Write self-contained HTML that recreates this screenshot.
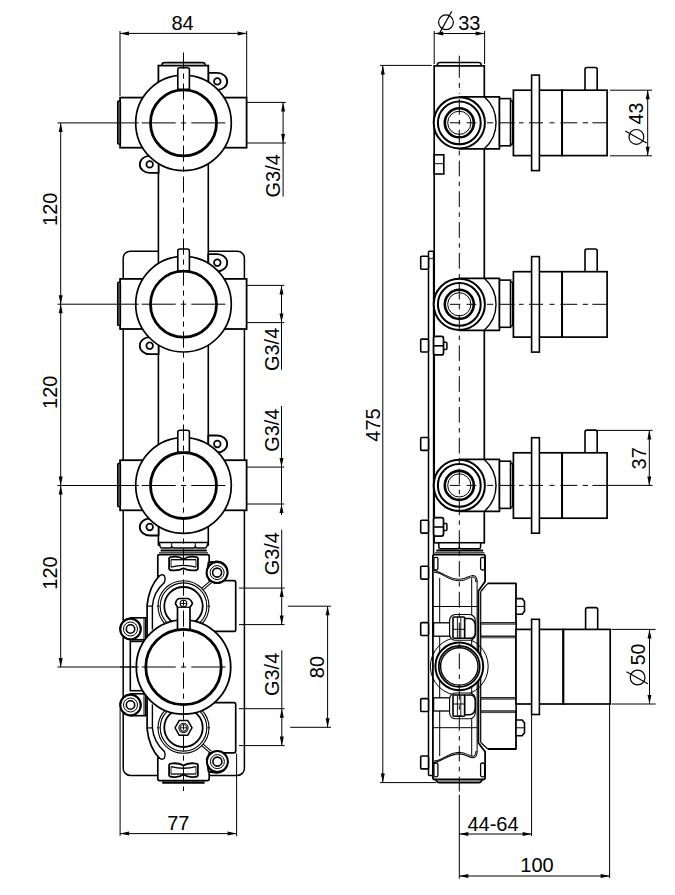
<!DOCTYPE html>
<html><head><meta charset="utf-8"><style>
html,body{margin:0;padding:0;background:#fff;}
svg{display:block;}
text{font-family:"Liberation Sans",sans-serif;fill:#000;}
</style></head><body>
<svg width="675" height="895" viewBox="0 0 675 895">
<rect x="0" y="0" width="675" height="895" fill="#fff"/>
<rect x="123.20" y="251.20" width="121.20" height="524.20" rx="7" fill="#fff" stroke="#000" stroke-width="1.5"/>
<rect x="158.40" y="120.00" width="49.90" height="425.00" rx="0" fill="#fff" stroke="#000" stroke-width="1.6"/>
<path d="M208.3,72.9 L217.3,72.9 A9.9,8.5 0 0 1 217.3,89.9 L208.3,89.9 Z" fill="#fff" stroke="#000" stroke-width="1.8" stroke-linejoin="round"/>
<circle cx="217.30" cy="81.40" r="3.30" fill="none" stroke="#000" stroke-width="1.7"/>
<path d="M158.6,172.9 L149.7,172.9 A9.9,8.5 0 0 1 149.7,155.9 L158.6,155.9 Z" fill="#fff" stroke="#000" stroke-width="1.8" stroke-linejoin="round"/>
<circle cx="149.70" cy="164.40" r="3.30" fill="none" stroke="#000" stroke-width="1.7"/>
<rect x="158.40" y="65.60" width="49.90" height="27.30" rx="0" fill="#fff" stroke="#000" stroke-width="1.8"/>
<path d="M162,65.6 L162,64.2 Q162.3,62.6 164.5,62.6 L202.5,62.6 Q204.7,62.6 205,64.2 L205,65.6" fill="none" stroke="#000" stroke-width="1.7" stroke-linejoin="round"/>
<rect x="120.10" y="97.60" width="126.50" height="50.10" rx="0" fill="#fff" stroke="#000" stroke-width="1.8"/>
<rect x="117.6" y="100.90" width="2.9" height="43.20" rx="1" fill="#555" stroke="#000" stroke-width="1.3"/>
<circle cx="183.50" cy="122.90" r="47.80" fill="#fff" stroke="#000" stroke-width="1.7"/>
<circle cx="183.50" cy="122.90" r="33.00" fill="none" stroke="#000" stroke-width="2.8"/>
<path d="M177.8,89.4 L177.8,69.7 Q177.8,67.7 179.8,67.7 L187.4,67.7 Q189.4,67.7 189.4,69.7 L189.4,89.4 Z" fill="#fff" stroke="#000" stroke-width="1.6" stroke-linejoin="round"/>
<line x1="120.00" y1="122.90" x2="138.70" y2="122.90" stroke="#000" stroke-width="1.0"/>
<line x1="141.70" y1="122.90" x2="175.70" y2="122.90" stroke="#000" stroke-width="1.0"/>
<line x1="180.90" y1="122.90" x2="186.10" y2="122.90" stroke="#000" stroke-width="1.0"/>
<line x1="191.30" y1="122.90" x2="225.40" y2="122.90" stroke="#000" stroke-width="1.0"/>
<path d="M208.3,254.2 L217.3,254.2 A9.9,8.5 0 0 1 217.3,271.2 L208.3,271.2 Z" fill="#fff" stroke="#000" stroke-width="1.8" stroke-linejoin="round"/>
<circle cx="217.30" cy="262.70" r="3.30" fill="none" stroke="#000" stroke-width="1.7"/>
<path d="M158.6,354.2 L149.7,354.2 A9.9,8.5 0 0 1 149.7,337.2 L158.6,337.2 Z" fill="#fff" stroke="#000" stroke-width="1.8" stroke-linejoin="round"/>
<circle cx="149.70" cy="345.70" r="3.30" fill="none" stroke="#000" stroke-width="1.7"/>
<rect x="120.10" y="278.90" width="126.50" height="50.10" rx="0" fill="#fff" stroke="#000" stroke-width="1.8"/>
<rect x="117.6" y="282.20" width="2.9" height="43.20" rx="1" fill="#555" stroke="#000" stroke-width="1.3"/>
<circle cx="183.50" cy="304.20" r="47.80" fill="#fff" stroke="#000" stroke-width="1.7"/>
<circle cx="183.50" cy="304.20" r="33.00" fill="none" stroke="#000" stroke-width="2.8"/>
<path d="M177.8,270.7 L177.8,251.0 Q177.8,249.0 179.8,249.0 L187.4,249.0 Q189.4,249.0 189.4,251.0 L189.4,270.7 Z" fill="#fff" stroke="#000" stroke-width="1.6" stroke-linejoin="round"/>
<line x1="120.00" y1="304.20" x2="138.70" y2="304.20" stroke="#000" stroke-width="1.0"/>
<line x1="141.70" y1="304.20" x2="175.70" y2="304.20" stroke="#000" stroke-width="1.0"/>
<line x1="180.90" y1="304.20" x2="186.10" y2="304.20" stroke="#000" stroke-width="1.0"/>
<line x1="191.30" y1="304.20" x2="225.40" y2="304.20" stroke="#000" stroke-width="1.0"/>
<path d="M208.3,435.5 L217.3,435.5 A9.9,8.5 0 0 1 217.3,452.5 L208.3,452.5 Z" fill="#fff" stroke="#000" stroke-width="1.8" stroke-linejoin="round"/>
<circle cx="217.30" cy="444.00" r="3.30" fill="none" stroke="#000" stroke-width="1.7"/>
<path d="M158.6,535.5 L149.7,535.5 A9.9,8.5 0 0 1 149.7,518.5 L158.6,518.5 Z" fill="#fff" stroke="#000" stroke-width="1.8" stroke-linejoin="round"/>
<circle cx="149.70" cy="527.00" r="3.30" fill="none" stroke="#000" stroke-width="1.7"/>
<rect x="120.10" y="460.20" width="126.50" height="50.10" rx="0" fill="#fff" stroke="#000" stroke-width="1.8"/>
<rect x="117.6" y="463.50" width="2.9" height="43.20" rx="1" fill="#555" stroke="#000" stroke-width="1.3"/>
<circle cx="183.50" cy="485.50" r="47.80" fill="#fff" stroke="#000" stroke-width="1.7"/>
<circle cx="183.50" cy="485.50" r="33.00" fill="none" stroke="#000" stroke-width="2.8"/>
<path d="M177.8,452.0 L177.8,432.3 Q177.8,430.3 179.8,430.3 L187.4,430.3 Q189.4,430.3 189.4,432.3 L189.4,452.0 Z" fill="#fff" stroke="#000" stroke-width="1.6" stroke-linejoin="round"/>
<line x1="120.00" y1="485.50" x2="138.70" y2="485.50" stroke="#000" stroke-width="1.0"/>
<line x1="141.70" y1="485.50" x2="175.70" y2="485.50" stroke="#000" stroke-width="1.0"/>
<line x1="180.90" y1="485.50" x2="186.10" y2="485.50" stroke="#000" stroke-width="1.0"/>
<line x1="191.30" y1="485.50" x2="225.40" y2="485.50" stroke="#000" stroke-width="1.0"/>
<path d="M159.2,542.5 L208.3,542.5 L206.8,546.5 Q206.3,548 204.8,548 L197.3,548 Q195.3,548 195.3,546.5 Q195.3,548 193.3,548 L173.7,548 Q171.7,548 171.7,546.5 Q171.7,548 169.7,548 L162,548 Q160.6,548 160.1,546.5 Z" fill="#fff" stroke="#000" stroke-width="1.5" stroke-linejoin="round"/>
<line x1="171.70" y1="542.50" x2="171.70" y2="548.00" stroke="#000" stroke-width="1.0"/>
<line x1="195.30" y1="542.50" x2="195.30" y2="548.00" stroke="#000" stroke-width="1.0"/>
<line x1="160.60" y1="550.40" x2="206.80" y2="550.40" stroke="#000" stroke-width="2.0"/>
<line x1="159.00" y1="552.80" x2="208.00" y2="552.80" stroke="#000" stroke-width="1.0"/>
<rect x="130.50" y="617.80" width="15.20" height="21.90" rx="0" fill="#fff" stroke="#000" stroke-width="1.6"/>
<line x1="144.00" y1="617.80" x2="144.00" y2="639.70" stroke="#000" stroke-width="1.0"/>
<rect x="130.50" y="693.80" width="15.20" height="21.90" rx="0" fill="#fff" stroke="#000" stroke-width="1.6"/>
<line x1="144.00" y1="693.80" x2="144.00" y2="715.70" stroke="#000" stroke-width="1.0"/>
<path d="M157.8,556.3 Q157.8,554.7 159.6,554.7 L207.4,554.7 Q209.2,554.7 209.2,556.3 L209.2,580.7 L234,580.7 Q235.7,580.7 235.7,582.5 L235.7,629.7 Q235.7,631.4 234,631.4 L214.6,631.4 L214.6,702.6 L234,702.6 Q235.7,702.6 235.7,704.3 L235.7,751 Q235.7,752.8 234,752.8 L209.2,752.8 L209.2,778.8 Q209.2,780.6 207.4,780.6 L159.6,780.6 Q157.8,780.6 157.8,778.8 L157.8,757.8 L159.1,757.8 Q149,747 147.1,728.8 L147.1,605.2 Q149,587 159.1,576.2 L157.8,576.2 Z" fill="#fff" stroke="#000" stroke-width="1.7" stroke-linejoin="round"/>
<line x1="162.20" y1="782.60" x2="204.60" y2="782.60" stroke="#000" stroke-width="2.4"/>
<path d="M159.1,576.2 Q162,573.5 164.5,576 Q165.8,578.5 164.5,582.4 Q153.5,592 152.4,606.1 L152.4,629.4" fill="none" stroke="#000" stroke-width="1.4" stroke-linejoin="round"/>
<line x1="147.10" y1="606.10" x2="152.40" y2="606.10" stroke="#000" stroke-width="1.2"/>
<path d="M159.1,757.8 Q162,760.5 164.5,758 Q165.8,755.5 164.5,751.6 Q153.5,742 152.4,727.9 L152.4,704.6" fill="none" stroke="#000" stroke-width="1.4" stroke-linejoin="round"/>
<line x1="147.10" y1="727.90" x2="152.40" y2="727.90" stroke="#000" stroke-width="1.2"/>
<path d="M169.1,558.5 Q169.5,556.9 172.5,556.9 Q178.5,555.9 183.5,559.1999999999999 Q188.5,555.9 194.5,556.9 Q197.5,556.9 197.9,558.5 L197.9,568.6999999999999 Q197.5,570.3 194.5,570.3 Q188.5,571.0 183.5,568.1999999999999 Q178.5,571.0 172.5,570.3 Q169.5,570.3 169.1,568.6999999999999 Z" fill="none" stroke="#000" stroke-width="1.8" stroke-linejoin="round"/>
<line x1="171.00" y1="559.70" x2="196.00" y2="559.70" stroke="#000" stroke-width="1.3"/>
<path d="M171,567.0999999999999 Q183.5,563.8 196,567.0999999999999" fill="none" stroke="#000" stroke-width="1.3" stroke-linejoin="round"/>
<line x1="171.00" y1="559.70" x2="171.00" y2="567.10" stroke="#000" stroke-width="0.9"/>
<line x1="196.00" y1="559.70" x2="196.00" y2="567.10" stroke="#000" stroke-width="0.9"/>
<path d="M169.1,775.1999999999998 Q169.5,776.7999999999998 172.5,776.7999999999998 Q178.5,777.7999999999998 183.5,774.4999999999999 Q188.5,777.7999999999998 194.5,776.7999999999998 Q197.5,776.7999999999998 197.9,775.1999999999998 L197.9,764.9999999999999 Q197.5,763.3999999999999 194.5,763.3999999999999 Q188.5,762.6999999999998 183.5,765.4999999999999 Q178.5,762.6999999999998 172.5,763.3999999999999 Q169.5,763.3999999999999 169.1,764.9999999999999 Z" fill="none" stroke="#000" stroke-width="1.8" stroke-linejoin="round"/>
<line x1="171.00" y1="774.00" x2="196.00" y2="774.00" stroke="#000" stroke-width="1.3"/>
<path d="M171,766.5999999999999 Q183.5,769.8999999999999 196,766.5999999999999" fill="none" stroke="#000" stroke-width="1.3" stroke-linejoin="round"/>
<line x1="171.00" y1="774.00" x2="171.00" y2="766.60" stroke="#000" stroke-width="0.9"/>
<line x1="196.00" y1="774.00" x2="196.00" y2="766.60" stroke="#000" stroke-width="0.9"/>
<path d="M208.6,562.5 L215,561.6 A10.5,10.5 0 1 1 206.8,575 Z" fill="#fff" stroke="#000" stroke-width="2.0" stroke-linejoin="round"/>
<path d="M208.6,771.7 L215,772.6 A10.5,10.5 0 1 0 206.8,759.2 Z" fill="#fff" stroke="#000" stroke-width="2.0" stroke-linejoin="round"/>
<circle cx="217.10" cy="572.60" r="10.50" fill="#fff" stroke="#000" stroke-width="2.0"/>
<circle cx="217.10" cy="572.60" r="7.00" fill="none" stroke="#000" stroke-width="1.0"/>
<circle cx="217.10" cy="572.60" r="4.50" fill="none" stroke="#000" stroke-width="1.6"/>
<circle cx="217.40" cy="761.60" r="10.50" fill="#fff" stroke="#000" stroke-width="2.0"/>
<circle cx="217.40" cy="761.60" r="7.00" fill="none" stroke="#000" stroke-width="1.0"/>
<circle cx="217.40" cy="761.60" r="4.50" fill="none" stroke="#000" stroke-width="1.6"/>
<circle cx="130.50" cy="629.00" r="10.30" fill="#fff" stroke="#000" stroke-width="2.2"/>
<circle cx="130.50" cy="629.00" r="7.00" fill="none" stroke="#000" stroke-width="1.0"/>
<circle cx="130.50" cy="629.00" r="4.20" fill="none" stroke="#000" stroke-width="1.6"/>
<circle cx="130.50" cy="705.00" r="10.30" fill="#fff" stroke="#000" stroke-width="2.2"/>
<circle cx="130.50" cy="705.00" r="7.00" fill="none" stroke="#000" stroke-width="1.0"/>
<circle cx="130.50" cy="705.00" r="4.20" fill="none" stroke="#000" stroke-width="1.6"/>
<line x1="200.60" y1="589.20" x2="210.10" y2="581.20" stroke="#000" stroke-width="1.1"/>
<line x1="202.20" y1="590.60" x2="211.60" y2="582.60" stroke="#000" stroke-width="1.1"/>
<line x1="200.60" y1="744.80" x2="210.10" y2="752.80" stroke="#000" stroke-width="1.1"/>
<line x1="202.20" y1="743.40" x2="211.60" y2="751.40" stroke="#000" stroke-width="1.1"/>
<circle cx="183.50" cy="606.20" r="25.50" fill="#fff" stroke="#000" stroke-width="1.1"/>
<circle cx="183.50" cy="606.20" r="23.30" fill="none" stroke="#000" stroke-width="1.1"/>
<circle cx="183.50" cy="606.20" r="19.20" fill="none" stroke="#000" stroke-width="1.8"/>
<line x1="207.50" y1="606.20" x2="210.00" y2="606.20" stroke="#000" stroke-width="1.0"/>
<line x1="157.00" y1="606.20" x2="159.50" y2="606.20" stroke="#000" stroke-width="1.0"/>
<circle cx="183.50" cy="727.80" r="25.50" fill="#fff" stroke="#000" stroke-width="1.1"/>
<circle cx="183.50" cy="727.80" r="23.30" fill="none" stroke="#000" stroke-width="1.1"/>
<circle cx="183.50" cy="727.80" r="19.20" fill="none" stroke="#000" stroke-width="1.8"/>
<line x1="207.50" y1="727.80" x2="210.00" y2="727.80" stroke="#000" stroke-width="1.0"/>
<line x1="157.00" y1="727.80" x2="159.50" y2="727.80" stroke="#000" stroke-width="1.0"/>
<polygon points="175.0,727.8 179.25,720.4 187.75,720.4 192.0,727.8 187.75,735.1999999999999 179.25,735.1999999999999" fill="#fff" stroke="#000" stroke-width="1.5"/>
<circle cx="183.50" cy="727.80" r="4.60" fill="none" stroke="#000" stroke-width="1.1"/>
<circle cx="183.50" cy="727.80" r="3.30" fill="none" stroke="#000" stroke-width="0.9"/>
<line x1="180.00" y1="727.80" x2="187.00" y2="727.80" stroke="#000" stroke-width="0.9"/>
<rect x="130.30" y="641.40" width="17.20" height="49.30" rx="0" fill="#fff" stroke="#000" stroke-width="1.6"/>
<circle cx="183.50" cy="667.00" r="47.20" fill="#fff" stroke="#000" stroke-width="1.8"/>
<path d="M177.5,629 L177.5,607.3 L175.4,603.5 Q176.5,598.5 180,598.5 L187,598.5 Q190.5,598.5 192.5,603.5 L190,607.3 L190,629" fill="#fff" stroke="#000" stroke-width="1.7" stroke-linejoin="round"/>
<line x1="177.50" y1="607.30" x2="190.00" y2="607.30" stroke="#000" stroke-width="1.2"/>
<circle cx="183.50" cy="603.50" r="3.30" fill="none" stroke="#000" stroke-width="1.1"/>
<line x1="180.50" y1="603.50" x2="186.50" y2="603.50" stroke="#000" stroke-width="0.9"/>
<circle cx="183.50" cy="667.00" r="37.70" fill="none" stroke="#000" stroke-width="2.8"/>
<line x1="120.00" y1="667.00" x2="138.70" y2="667.00" stroke="#000" stroke-width="1.0"/>
<line x1="141.70" y1="667.00" x2="175.70" y2="667.00" stroke="#000" stroke-width="1.0"/>
<line x1="180.90" y1="667.00" x2="186.10" y2="667.00" stroke="#000" stroke-width="1.0"/>
<line x1="191.30" y1="667.00" x2="225.40" y2="667.00" stroke="#000" stroke-width="1.0"/>
<line x1="183.5" y1="51.1" x2="183.5" y2="791" stroke="#000" stroke-width="1" stroke-dasharray="16.2 4.8 5.2 4.8" stroke-dashoffset="-1.4"/>
<line x1="120.00" y1="31.00" x2="120.00" y2="96.00" stroke="#000" stroke-width="1.0"/>
<line x1="246.70" y1="31.00" x2="246.70" y2="97.00" stroke="#000" stroke-width="1.0"/>
<line x1="120.00" y1="33.40" x2="246.70" y2="33.40" stroke="#000" stroke-width="1.0"/>
<polygon points="120.00,33.40 129.00,31.40 129.00,35.40" fill="#000"/>
<polygon points="246.70,33.40 237.70,31.40 237.70,35.40" fill="#000"/>
<text x="182.60" y="30.40" text-anchor="middle" font-size="20">84</text>
<line x1="57.50" y1="122.90" x2="120.00" y2="122.90" stroke="#000" stroke-width="1.0"/>
<line x1="57.50" y1="304.20" x2="120.00" y2="304.20" stroke="#000" stroke-width="1.0"/>
<line x1="57.50" y1="485.50" x2="120.00" y2="485.50" stroke="#000" stroke-width="1.0"/>
<line x1="60.70" y1="122.90" x2="60.70" y2="304.20" stroke="#000" stroke-width="1.0"/>
<polygon points="60.70,122.90 58.70,131.90 62.70,131.90" fill="#000"/>
<polygon points="60.70,304.20 58.70,295.20 62.70,295.20" fill="#000"/>
<line x1="60.70" y1="304.20" x2="60.70" y2="485.50" stroke="#000" stroke-width="1.0"/>
<polygon points="60.70,304.20 58.70,313.20 62.70,313.20" fill="#000"/>
<polygon points="60.70,485.50 58.70,476.50 62.70,476.50" fill="#000"/>
<line x1="60.70" y1="485.50" x2="60.70" y2="667.00" stroke="#000" stroke-width="1.0"/>
<polygon points="60.70,485.50 58.70,494.50 62.70,494.50" fill="#000"/>
<polygon points="60.70,667.00 58.70,658.00 62.70,658.00" fill="#000"/>
<line x1="57.50" y1="667.00" x2="135.00" y2="667.00" stroke="#000" stroke-width="1.0"/>
<text transform="translate(56.50,209.30) rotate(-90)" text-anchor="middle" font-size="20">120</text>
<text transform="translate(56.50,392.30) rotate(-90)" text-anchor="middle" font-size="20">120</text>
<text transform="translate(56.50,573.00) rotate(-90)" text-anchor="middle" font-size="20">120</text>
<line x1="246.60" y1="102.40" x2="285.90" y2="102.40" stroke="#000" stroke-width="1.0"/>
<line x1="246.60" y1="143.00" x2="285.90" y2="143.00" stroke="#000" stroke-width="1.0"/>
<line x1="283.10" y1="102.40" x2="283.10" y2="196.60" stroke="#000" stroke-width="1.0"/>
<polygon points="283.10,102.40 281.10,111.40 285.10,111.40" fill="#000"/>
<polygon points="283.10,143.00 281.10,134.00 285.10,134.00" fill="#000"/>
<text transform="translate(280.10,175.85) rotate(-90)" text-anchor="middle" font-size="20">G3/4</text>
<line x1="246.60" y1="285.40" x2="284.30" y2="285.40" stroke="#000" stroke-width="1.0"/>
<line x1="246.60" y1="322.60" x2="284.30" y2="322.60" stroke="#000" stroke-width="1.0"/>
<line x1="281.50" y1="285.40" x2="281.50" y2="369.70" stroke="#000" stroke-width="1.0"/>
<polygon points="281.50,285.40 279.50,294.40 283.50,294.40" fill="#000"/>
<polygon points="281.50,322.60 279.50,313.60 283.50,313.60" fill="#000"/>
<text transform="translate(278.50,349.40) rotate(-90)" text-anchor="middle" font-size="20">G3/4</text>
<line x1="246.60" y1="467.10" x2="284.30" y2="467.10" stroke="#000" stroke-width="1.0"/>
<line x1="246.60" y1="504.00" x2="284.30" y2="504.00" stroke="#000" stroke-width="1.0"/>
<line x1="281.50" y1="406.00" x2="281.50" y2="504.00" stroke="#000" stroke-width="1.0"/>
<line x1="281.50" y1="504.00" x2="281.50" y2="515.00" stroke="#000" stroke-width="1.0"/>
<polygon points="281.50,467.10 279.50,458.10 283.50,458.10" fill="#000"/>
<polygon points="281.50,504.00 279.50,513.00 283.50,513.00" fill="#000"/>
<text transform="translate(278.50,430.20) rotate(-90)" text-anchor="middle" font-size="20">G3/4</text>
<line x1="239.00" y1="588.10" x2="284.50" y2="588.10" stroke="#000" stroke-width="1.0"/>
<line x1="239.00" y1="624.60" x2="284.50" y2="624.60" stroke="#000" stroke-width="1.0"/>
<line x1="281.70" y1="529.70" x2="281.70" y2="624.60" stroke="#000" stroke-width="1.0"/>
<polygon points="281.70,588.10 279.70,597.10 283.70,597.10" fill="#000"/>
<polygon points="281.70,624.60 279.70,615.60 283.70,615.60" fill="#000"/>
<text transform="translate(278.70,553.70) rotate(-90)" text-anchor="middle" font-size="20">G3/4</text>
<line x1="239.00" y1="708.70" x2="284.60" y2="708.70" stroke="#000" stroke-width="1.0"/>
<line x1="239.00" y1="745.60" x2="284.60" y2="745.60" stroke="#000" stroke-width="1.0"/>
<line x1="281.80" y1="650.30" x2="281.80" y2="745.60" stroke="#000" stroke-width="1.0"/>
<polygon points="281.80,708.70 279.80,717.70 283.80,717.70" fill="#000"/>
<polygon points="281.80,745.60 279.80,736.60 283.80,736.60" fill="#000"/>
<text transform="translate(278.80,674.40) rotate(-90)" text-anchor="middle" font-size="20">G3/4</text>
<line x1="287.80" y1="606.20" x2="331.00" y2="606.20" stroke="#000" stroke-width="1.0"/>
<line x1="290.20" y1="727.30" x2="331.00" y2="727.30" stroke="#000" stroke-width="1.0"/>
<line x1="327.60" y1="606.20" x2="327.60" y2="727.30" stroke="#000" stroke-width="1.0"/>
<polygon points="327.60,606.20 325.60,615.20 329.60,615.20" fill="#000"/>
<polygon points="327.60,727.30 325.60,718.30 329.60,718.30" fill="#000"/>
<text transform="translate(323.80,667.00) rotate(-90)" text-anchor="middle" font-size="20">80</text>
<line x1="120.10" y1="709.00" x2="120.10" y2="836.00" stroke="#000" stroke-width="1.0"/>
<line x1="236.60" y1="753.60" x2="236.60" y2="836.00" stroke="#000" stroke-width="1.0"/>
<line x1="120.10" y1="833.60" x2="236.60" y2="833.60" stroke="#000" stroke-width="1.0"/>
<polygon points="120.10,833.60 129.10,831.60 129.10,835.60" fill="#000"/>
<polygon points="236.60,833.60 227.60,831.60 227.60,835.60" fill="#000"/>
<text x="178.30" y="829.60" text-anchor="middle" font-size="20">77</text>
<rect x="428.50" y="251.30" width="5.10" height="524.10" rx="1" fill="#fff" stroke="#000" stroke-width="1.5"/>
<line x1="428.50" y1="258.60" x2="433.60" y2="258.60" stroke="#000" stroke-width="0.9"/>
<rect x="420.70" y="256.30" width="7.80" height="12.90" rx="1" fill="#fff" stroke="#000" stroke-width="1.6"/>
<rect x="420.70" y="339.10" width="7.80" height="12.90" rx="1" fill="#fff" stroke="#000" stroke-width="1.6"/>
<rect x="420.70" y="437.50" width="7.80" height="12.90" rx="1" fill="#fff" stroke="#000" stroke-width="1.6"/>
<rect x="420.70" y="520.20" width="7.80" height="12.90" rx="1" fill="#fff" stroke="#000" stroke-width="1.6"/>
<rect x="420.70" y="566.20" width="7.80" height="12.90" rx="1" fill="#fff" stroke="#000" stroke-width="1.6"/>
<rect x="420.70" y="622.60" width="7.80" height="12.90" rx="1" fill="#fff" stroke="#000" stroke-width="1.6"/>
<rect x="420.70" y="698.60" width="7.80" height="12.90" rx="1" fill="#fff" stroke="#000" stroke-width="1.6"/>
<rect x="420.70" y="756.00" width="7.80" height="12.90" rx="1" fill="#fff" stroke="#000" stroke-width="1.6"/>
<rect x="434.20" y="65.90" width="50.10" height="476.90" rx="0" fill="#fff" stroke="#000" stroke-width="1.7"/>
<path d="M437.5,65.8 L437.5,64.2 Q437.8,62.5 440,62.5 L478.6,62.5 Q480.8,62.5 481.1,64.2 L481.1,65.8" fill="none" stroke="#000" stroke-width="1.7" stroke-linejoin="round"/>
<rect x="434.20" y="154.80" width="9.60" height="19.20" rx="0" fill="#fff" stroke="#000" stroke-width="1.6"/>
<line x1="434.20" y1="163.70" x2="443.80" y2="163.70" stroke="#000" stroke-width="1.0"/>
<rect x="443.30" y="342.30" width="3.60" height="7.10" rx="1" fill="#fff" stroke="#000" stroke-width="1.5"/>
<rect x="433.60" y="336.40" width="9.90" height="18.50" rx="2" fill="#fff" stroke="#000" stroke-width="1.7"/>
<line x1="433.60" y1="345.80" x2="443.50" y2="345.80" stroke="#000" stroke-width="1.6"/>
<rect x="443.30" y="523.50" width="3.60" height="7.10" rx="1" fill="#fff" stroke="#000" stroke-width="1.5"/>
<rect x="433.60" y="517.60" width="9.90" height="18.50" rx="2" fill="#fff" stroke="#000" stroke-width="1.7"/>
<line x1="433.60" y1="527.00" x2="443.50" y2="527.00" stroke="#000" stroke-width="1.6"/>
<path d="M459.3,96.8 L499.5,96.8 L499.5,148.8 L459.3,148.8 Z" fill="#fff" stroke="#000" stroke-width="1.7" stroke-linejoin="round"/>
<path d="M484.3,96.8 A34.7,34.7 0 0 1 484.3,148.8" fill="none" stroke="#000" stroke-width="1.4" stroke-linejoin="round"/>
<rect x="499.50" y="98.60" width="11.10" height="47.20" rx="0" fill="#fff" stroke="#000" stroke-width="1.6"/>
<rect x="510.60" y="100.80" width="2.00" height="43.50" rx="0" fill="#fff" stroke="#000" stroke-width="1.4"/>
<circle cx="459.30" cy="122.80" r="25.60" fill="#fff" stroke="#000" stroke-width="2.0"/>
<circle cx="459.30" cy="122.80" r="21.40" fill="none" stroke="#000" stroke-width="2.0"/>
<circle cx="459.30" cy="122.80" r="14.50" fill="none" stroke="#000" stroke-width="2.6"/>
<circle cx="459.30" cy="122.80" r="11.60" fill="none" stroke="#000" stroke-width="1.0"/>
<rect x="585.00" y="67.50" width="12.20" height="24.70" rx="2" fill="#fff" stroke="#000" stroke-width="1.6"/>
<rect x="513.40" y="90.20" width="48.80" height="65.40" rx="0" fill="#fff" stroke="#000" stroke-width="1.7"/>
<line x1="562.20" y1="90.20" x2="562.20" y2="155.60" stroke="#000" stroke-width="2.4"/>
<rect x="562.20" y="90.20" width="44.90" height="65.40" rx="0" fill="#fff" stroke="#000" stroke-width="1.7"/>
<rect x="531.60" y="75.10" width="7.80" height="95.50" rx="0" fill="#fff" stroke="#000" stroke-width="1.6"/>
<line x1="449.80" y1="122.80" x2="460.40" y2="122.80" stroke="#000" stroke-width="1.0"/>
<line x1="466.70" y1="122.80" x2="476.40" y2="122.80" stroke="#000" stroke-width="1.0"/>
<line x1="487.00" y1="122.80" x2="493.30" y2="122.80" stroke="#000" stroke-width="1.0"/>
<line x1="498.70" y1="122.80" x2="514.70" y2="122.80" stroke="#000" stroke-width="1.0"/>
<line x1="519.00" y1="122.80" x2="523.60" y2="122.80" stroke="#000" stroke-width="1.0"/>
<line x1="528.90" y1="122.80" x2="543.10" y2="122.80" stroke="#000" stroke-width="1.0"/>
<line x1="549.50" y1="122.80" x2="554.50" y2="122.80" stroke="#000" stroke-width="1.0"/>
<line x1="560.40" y1="122.80" x2="577.30" y2="122.80" stroke="#000" stroke-width="1.0"/>
<line x1="582.70" y1="122.80" x2="588.00" y2="122.80" stroke="#000" stroke-width="1.0"/>
<line x1="592.40" y1="122.80" x2="606.70" y2="122.80" stroke="#000" stroke-width="1.0"/>
<path d="M459.3,278.3 L499.5,278.3 L499.5,330.3 L459.3,330.3 Z" fill="#fff" stroke="#000" stroke-width="1.7" stroke-linejoin="round"/>
<path d="M484.3,278.3 A34.7,34.7 0 0 1 484.3,330.3" fill="none" stroke="#000" stroke-width="1.4" stroke-linejoin="round"/>
<rect x="499.50" y="280.10" width="11.10" height="47.20" rx="0" fill="#fff" stroke="#000" stroke-width="1.6"/>
<rect x="510.60" y="282.30" width="2.00" height="43.50" rx="0" fill="#fff" stroke="#000" stroke-width="1.4"/>
<circle cx="459.30" cy="304.30" r="25.60" fill="#fff" stroke="#000" stroke-width="2.0"/>
<circle cx="459.30" cy="304.30" r="21.40" fill="none" stroke="#000" stroke-width="2.0"/>
<circle cx="459.30" cy="304.30" r="14.50" fill="none" stroke="#000" stroke-width="2.6"/>
<circle cx="459.30" cy="304.30" r="11.60" fill="none" stroke="#000" stroke-width="1.0"/>
<rect x="585.00" y="249.00" width="12.20" height="24.70" rx="2" fill="#fff" stroke="#000" stroke-width="1.6"/>
<rect x="513.40" y="271.70" width="48.80" height="65.40" rx="0" fill="#fff" stroke="#000" stroke-width="1.7"/>
<line x1="562.20" y1="271.70" x2="562.20" y2="337.10" stroke="#000" stroke-width="2.4"/>
<rect x="562.20" y="271.70" width="44.90" height="65.40" rx="0" fill="#fff" stroke="#000" stroke-width="1.7"/>
<rect x="531.60" y="256.60" width="7.80" height="95.50" rx="0" fill="#fff" stroke="#000" stroke-width="1.6"/>
<line x1="449.80" y1="304.30" x2="460.40" y2="304.30" stroke="#000" stroke-width="1.0"/>
<line x1="466.70" y1="304.30" x2="476.40" y2="304.30" stroke="#000" stroke-width="1.0"/>
<line x1="487.00" y1="304.30" x2="493.30" y2="304.30" stroke="#000" stroke-width="1.0"/>
<line x1="498.70" y1="304.30" x2="514.70" y2="304.30" stroke="#000" stroke-width="1.0"/>
<line x1="519.00" y1="304.30" x2="523.60" y2="304.30" stroke="#000" stroke-width="1.0"/>
<line x1="528.90" y1="304.30" x2="543.10" y2="304.30" stroke="#000" stroke-width="1.0"/>
<line x1="549.50" y1="304.30" x2="554.50" y2="304.30" stroke="#000" stroke-width="1.0"/>
<line x1="560.40" y1="304.30" x2="577.30" y2="304.30" stroke="#000" stroke-width="1.0"/>
<line x1="582.70" y1="304.30" x2="588.00" y2="304.30" stroke="#000" stroke-width="1.0"/>
<line x1="592.40" y1="304.30" x2="606.70" y2="304.30" stroke="#000" stroke-width="1.0"/>
<path d="M459.3,459.4 L499.5,459.4 L499.5,511.4 L459.3,511.4 Z" fill="#fff" stroke="#000" stroke-width="1.7" stroke-linejoin="round"/>
<path d="M484.3,459.4 A34.7,34.7 0 0 1 484.3,511.4" fill="none" stroke="#000" stroke-width="1.4" stroke-linejoin="round"/>
<rect x="499.50" y="461.20" width="11.10" height="47.20" rx="0" fill="#fff" stroke="#000" stroke-width="1.6"/>
<rect x="510.60" y="463.40" width="2.00" height="43.50" rx="0" fill="#fff" stroke="#000" stroke-width="1.4"/>
<circle cx="459.30" cy="485.40" r="25.60" fill="#fff" stroke="#000" stroke-width="2.0"/>
<circle cx="459.30" cy="485.40" r="21.40" fill="none" stroke="#000" stroke-width="2.0"/>
<circle cx="459.30" cy="485.40" r="14.50" fill="none" stroke="#000" stroke-width="2.6"/>
<circle cx="459.30" cy="485.40" r="11.60" fill="none" stroke="#000" stroke-width="1.0"/>
<rect x="585.00" y="430.10" width="12.20" height="24.70" rx="2" fill="#fff" stroke="#000" stroke-width="1.6"/>
<rect x="513.40" y="452.80" width="48.80" height="65.40" rx="0" fill="#fff" stroke="#000" stroke-width="1.7"/>
<line x1="562.20" y1="452.80" x2="562.20" y2="518.20" stroke="#000" stroke-width="2.4"/>
<rect x="562.20" y="452.80" width="44.90" height="65.40" rx="0" fill="#fff" stroke="#000" stroke-width="1.7"/>
<rect x="531.60" y="437.70" width="7.80" height="95.50" rx="0" fill="#fff" stroke="#000" stroke-width="1.6"/>
<line x1="449.80" y1="485.40" x2="460.40" y2="485.40" stroke="#000" stroke-width="1.0"/>
<line x1="466.70" y1="485.40" x2="476.40" y2="485.40" stroke="#000" stroke-width="1.0"/>
<line x1="487.00" y1="485.40" x2="493.30" y2="485.40" stroke="#000" stroke-width="1.0"/>
<line x1="498.70" y1="485.40" x2="514.70" y2="485.40" stroke="#000" stroke-width="1.0"/>
<line x1="519.00" y1="485.40" x2="523.60" y2="485.40" stroke="#000" stroke-width="1.0"/>
<line x1="528.90" y1="485.40" x2="543.10" y2="485.40" stroke="#000" stroke-width="1.0"/>
<line x1="549.50" y1="485.40" x2="554.50" y2="485.40" stroke="#000" stroke-width="1.0"/>
<line x1="560.40" y1="485.40" x2="577.30" y2="485.40" stroke="#000" stroke-width="1.0"/>
<line x1="582.70" y1="485.40" x2="588.00" y2="485.40" stroke="#000" stroke-width="1.0"/>
<line x1="592.40" y1="485.40" x2="606.70" y2="485.40" stroke="#000" stroke-width="1.0"/>
<path d="M438.8,542.8 L480.6,542.8 L480.6,547 Q480.6,548.7 478.8,548.7 L461,548.7 Q459.3,548.7 459.3,547 Q459.3,548.7 457.6,548.7 L440.6,548.7 Q438.8,548.7 438.8,547 Z" fill="#fff" stroke="#000" stroke-width="1.5" stroke-linejoin="round"/>
<line x1="459.30" y1="542.80" x2="459.30" y2="548.70" stroke="#000" stroke-width="1.0"/>
<line x1="436.30" y1="550.60" x2="483.10" y2="550.60" stroke="#000" stroke-width="2.0"/>
<line x1="435.00" y1="552.80" x2="484.50" y2="552.80" stroke="#000" stroke-width="1.0"/>
<rect x="480" y="583.4" width="36" height="165.6" fill="#fff"/>
<path d="M487.8,583.4 L516,583.4 L516,749 L487.8,749" fill="none" stroke="#000" stroke-width="1.8" stroke-linejoin="round"/>
<path d="M432.9,556.5 Q432.9,554.7 434.7,554.7 L483.3,554.7 Q485.1,554.7 485.1,556.5 L485.1,581.6 L478.4,591 L478.4,743 L485.1,751.8 L485.1,777.5 Q485.1,779.5 483.1,779.5 L434.9,779.5 Q432.9,779.5 432.9,777.5 Z" fill="#fff" stroke="#000" stroke-width="1.8" stroke-linejoin="round"/>
<line x1="487.80" y1="583.40" x2="480.70" y2="591.50" stroke="#000" stroke-width="1.2"/>
<line x1="487.80" y1="749.00" x2="480.70" y2="742.50" stroke="#000" stroke-width="1.2"/>
<line x1="480.70" y1="591.50" x2="480.70" y2="742.50" stroke="#000" stroke-width="1.2"/>
<path d="M436,780 Q437,782.5 439,782.5 L479,782.5 Q481,782.5 482,780" fill="none" stroke="#000" stroke-width="2.0" stroke-linejoin="round"/>
<line x1="439.70" y1="578.00" x2="439.70" y2="756.00" stroke="#000" stroke-width="1.0"/>
<line x1="471.70" y1="578.00" x2="471.70" y2="756.00" stroke="#000" stroke-width="1.0"/>
<line x1="477.10" y1="581.00" x2="477.10" y2="752.00" stroke="#000" stroke-width="1.0"/>
<line x1="432.90" y1="606.50" x2="477.10" y2="606.50" stroke="#000" stroke-width="1.0"/>
<line x1="432.90" y1="727.70" x2="477.10" y2="727.70" stroke="#000" stroke-width="1.0"/>
<path d="M433,570.5 C441,570.8 448,579.3 459,579.3 C466,579.3 469,575.5 473,575.5 Q477,575.8 477.2,582" fill="none" stroke="#000" stroke-width="1.1" stroke-linejoin="round"/>
<path d="M434,572.2 C442,572.5 449,580.8 459,580.8 C466,580.8 469.5,577 473,577 Q475.7,577.2 475.8,582" fill="none" stroke="#000" stroke-width="1.0" stroke-linejoin="round"/>
<path d="M433,762.7 C441,762.4 448,753.9 459,753.9 C466,753.9 469,757.7 473,757.7 Q477,757.4 477.2,751.2" fill="none" stroke="#000" stroke-width="1.1" stroke-linejoin="round"/>
<path d="M434,761 C442,760.7 449,752.4 459,752.4 C466,752.4 469.5,756.2 473,756.2 Q475.7,756 475.8,751.2" fill="none" stroke="#000" stroke-width="1.0" stroke-linejoin="round"/>
<rect x="433.90" y="557.30" width="4.00" height="12.70" rx="1.5" fill="#fff" stroke="#000" stroke-width="1.3"/>
<rect x="480.60" y="557.30" width="4.00" height="12.70" rx="1.5" fill="#fff" stroke="#000" stroke-width="1.3"/>
<rect x="433.90" y="763.00" width="4.00" height="13.80" rx="1.5" fill="#fff" stroke="#000" stroke-width="1.3"/>
<rect x="480.60" y="763.00" width="4.00" height="13.80" rx="1.5" fill="#fff" stroke="#000" stroke-width="1.3"/>
<rect x="433.60" y="622.80" width="16.40" height="13.40" rx="0" fill="#fff" stroke="#000" stroke-width="1.3"/>
<rect x="480.70" y="622.80" width="35.30" height="13.40" rx="0" fill="#fff" stroke="#000" stroke-width="1.3"/>
<line x1="480.70" y1="624.20" x2="516.00" y2="624.20" stroke="#000" stroke-width="0.8"/>
<line x1="480.70" y1="637.80" x2="516.00" y2="637.80" stroke="#000" stroke-width="0.8"/>
<rect x="433.60" y="697.80" width="16.40" height="13.20" rx="0" fill="#fff" stroke="#000" stroke-width="1.3"/>
<rect x="480.70" y="697.80" width="35.30" height="13.20" rx="0" fill="#fff" stroke="#000" stroke-width="1.3"/>
<line x1="480.70" y1="699.20" x2="516.00" y2="699.20" stroke="#000" stroke-width="0.8"/>
<line x1="480.70" y1="712.60" x2="516.00" y2="712.60" stroke="#000" stroke-width="0.8"/>
<path d="M516,598.6 L522.2,598.6 L524.5,601.6 L524.5,611.3000000000001 L522.2,614.3000000000001 L516,614.3000000000001 Z" fill="#fff" stroke="#000" stroke-width="1.6" stroke-linejoin="round"/>
<line x1="516.00" y1="606.40" x2="524.50" y2="606.40" stroke="#000" stroke-width="1.0"/>
<path d="M516,720.0 L522.2,720.0 L524.5,723.0 L524.5,732.7 L522.2,735.7 L516,735.7 Z" fill="#fff" stroke="#000" stroke-width="1.6" stroke-linejoin="round"/>
<line x1="516.00" y1="727.80" x2="524.50" y2="727.80" stroke="#000" stroke-width="1.0"/>
<circle cx="459.30" cy="666.40" r="28.90" fill="none" stroke="#000" stroke-width="1.0"/>
<circle cx="459.30" cy="666.40" r="23.90" fill="#fff" stroke="#000" stroke-width="2.0"/>
<circle cx="459.30" cy="666.40" r="20.50" fill="none" stroke="#000" stroke-width="1.7"/>
<circle cx="459.30" cy="666.40" r="18.70" fill="none" stroke="#000" stroke-width="1.4"/>
<rect x="449.60" y="614.50" width="25.70" height="25.80" rx="6" fill="#fff" stroke="#000" stroke-width="1.1"/>
<rect x="453.00" y="617.00" width="11.70" height="21.30" rx="1" fill="#fff" stroke="#000" stroke-width="1.6"/>
<path d="M464.7,618.5 L470,618.5 Q475.3,619.5 475.3,626.5 L475.3,632.3 Q475.3,638.3 470,638.3 L464.7,638.3 Z" fill="#fff" stroke="#000" stroke-width="1.6" stroke-linejoin="round"/>
<line x1="453.00" y1="629.30" x2="464.70" y2="629.30" stroke="#000" stroke-width="1.0"/>
<line x1="457.40" y1="617.00" x2="457.40" y2="637.80" stroke="#000" stroke-width="0.9"/>
<line x1="460.80" y1="617.00" x2="460.80" y2="637.80" stroke="#000" stroke-width="0.9"/>
<rect x="449.60" y="693.00" width="25.70" height="25.80" rx="6" fill="#fff" stroke="#000" stroke-width="1.1"/>
<rect x="453.00" y="695.00" width="11.70" height="21.30" rx="1" fill="#fff" stroke="#000" stroke-width="1.6"/>
<path d="M464.7,695.0 L470,695.0 Q475.3,695.0 475.3,701.0 L475.3,706.8 Q475.3,713.8 470,714.8 L464.7,714.8 Z" fill="#fff" stroke="#000" stroke-width="1.6" stroke-linejoin="round"/>
<line x1="453.00" y1="704.00" x2="464.70" y2="704.00" stroke="#000" stroke-width="1.0"/>
<line x1="457.40" y1="695.50" x2="457.40" y2="716.30" stroke="#000" stroke-width="0.9"/>
<line x1="460.80" y1="695.50" x2="460.80" y2="716.30" stroke="#000" stroke-width="0.9"/>
<rect x="585.60" y="607.60" width="12.10" height="23.80" rx="2" fill="#fff" stroke="#000" stroke-width="1.6"/>
<rect x="516.00" y="629.40" width="47.50" height="74.60" rx="0" fill="#fff" stroke="#000" stroke-width="1.7"/>
<line x1="563.50" y1="629.40" x2="563.50" y2="704.00" stroke="#000" stroke-width="2.4"/>
<rect x="563.50" y="629.40" width="46.70" height="74.60" rx="0" fill="#fff" stroke="#000" stroke-width="1.7"/>
<rect x="531.60" y="619.30" width="7.80" height="95.20" rx="0" fill="#fff" stroke="#000" stroke-width="1.6"/>
<line x1="459.30" y1="55.70" x2="459.30" y2="77.80" stroke="#000" stroke-width="1.0"/>
<line x1="459.30" y1="82.90" x2="459.30" y2="87.90" stroke="#000" stroke-width="1.0"/>
<line x1="459.3" y1="92.9" x2="459.3" y2="791.5" stroke="#000" stroke-width="1" stroke-dasharray="15.7 5.3 4.5 5.3" stroke-dashoffset="24.7"/>
<line x1="434.20" y1="31.00" x2="434.20" y2="64.00" stroke="#000" stroke-width="1.0"/>
<line x1="484.60" y1="31.00" x2="484.60" y2="64.00" stroke="#000" stroke-width="1.0"/>
<line x1="434.20" y1="33.50" x2="484.60" y2="33.50" stroke="#000" stroke-width="1.0"/>
<polygon points="434.20,33.50 443.20,31.50 443.20,35.50" fill="#000"/>
<polygon points="484.60,33.50 475.60,31.50 475.60,35.50" fill="#000"/>
<g transform="translate(446.00,22.30) rotate(0)"><circle cx="0" cy="0" r="7.4" fill="none" stroke="#000" stroke-width="1.2"/><line x1="-6.2" y1="10.3" x2="5.8" y2="-11.1" stroke="#000" stroke-width="1.2"/></g>
<text x="458.20" y="29.80" text-anchor="start" font-size="20">33</text>
<line x1="380.00" y1="65.40" x2="431.70" y2="65.40" stroke="#000" stroke-width="1.0"/>
<line x1="380.00" y1="782.60" x2="436.00" y2="782.60" stroke="#000" stroke-width="1.0"/>
<line x1="382.80" y1="65.40" x2="382.80" y2="782.60" stroke="#000" stroke-width="1.0"/>
<polygon points="382.80,65.40 380.80,74.40 384.80,74.40" fill="#000"/>
<polygon points="382.80,782.60 380.80,773.60 384.80,773.60" fill="#000"/>
<text transform="translate(379.60,425.00) rotate(-90)" text-anchor="middle" font-size="20">475</text>
<line x1="610.00" y1="90.20" x2="652.00" y2="90.20" stroke="#000" stroke-width="1.0"/>
<line x1="610.00" y1="155.80" x2="652.00" y2="155.80" stroke="#000" stroke-width="1.0"/>
<line x1="647.70" y1="90.20" x2="647.70" y2="155.80" stroke="#000" stroke-width="1.0"/>
<polygon points="647.70,90.20 645.70,99.20 649.70,99.20" fill="#000"/>
<polygon points="647.70,155.80 645.70,146.80 649.70,146.80" fill="#000"/>
<text transform="translate(643.40,113.60) rotate(-90)" text-anchor="middle" font-size="19.5">43</text>
<g transform="translate(636.40,136.90) rotate(-90)"><circle cx="0" cy="0" r="7.4" fill="none" stroke="#000" stroke-width="1.2"/><line x1="-6.2" y1="10.3" x2="5.8" y2="-11.1" stroke="#000" stroke-width="1.2"/></g>
<line x1="591.50" y1="430.40" x2="652.60" y2="430.40" stroke="#000" stroke-width="1.0"/>
<line x1="607.80" y1="485.40" x2="652.60" y2="485.40" stroke="#000" stroke-width="1.0"/>
<line x1="649.30" y1="430.40" x2="649.30" y2="485.40" stroke="#000" stroke-width="1.0"/>
<polygon points="649.30,430.40 647.30,439.40 651.30,439.40" fill="#000"/>
<polygon points="649.30,485.40 647.30,476.40 651.30,476.40" fill="#000"/>
<text transform="translate(646.20,458.30) rotate(-90)" text-anchor="middle" font-size="20">37</text>
<line x1="611.50" y1="629.40" x2="655.60" y2="629.40" stroke="#000" stroke-width="1.0"/>
<line x1="611.50" y1="704.00" x2="655.60" y2="704.00" stroke="#000" stroke-width="1.0"/>
<line x1="649.50" y1="629.40" x2="649.50" y2="704.00" stroke="#000" stroke-width="1.0"/>
<polygon points="649.50,629.40 647.50,638.40 651.50,638.40" fill="#000"/>
<polygon points="649.50,704.00 647.50,695.00 651.50,695.00" fill="#000"/>
<text transform="translate(645.20,654.40) rotate(-90)" text-anchor="middle" font-size="19.5">50</text>
<g transform="translate(637.60,677.50) rotate(-90)"><circle cx="0" cy="0" r="7.4" fill="none" stroke="#000" stroke-width="1.2"/><line x1="-6.2" y1="10.3" x2="5.8" y2="-11.1" stroke="#000" stroke-width="1.2"/></g>
<line x1="531.60" y1="714.50" x2="531.60" y2="836.00" stroke="#000" stroke-width="1.0"/>
<line x1="609.60" y1="704.00" x2="609.60" y2="878.00" stroke="#000" stroke-width="1.0"/>
<line x1="459.30" y1="794.80" x2="459.30" y2="878.70" stroke="#000" stroke-width="1.0"/>
<line x1="459.30" y1="834.00" x2="531.60" y2="834.00" stroke="#000" stroke-width="1.0"/>
<polygon points="459.30,834.00 468.30,832.00 468.30,836.00" fill="#000"/>
<polygon points="531.60,834.00 522.60,832.00 522.60,836.00" fill="#000"/>
<text x="493.00" y="831.00" text-anchor="middle" font-size="20">44-64</text>
<line x1="459.30" y1="876.00" x2="609.60" y2="876.00" stroke="#000" stroke-width="1.0"/>
<polygon points="459.30,876.00 468.30,874.00 468.30,878.00" fill="#000"/>
<polygon points="609.60,876.00 600.60,874.00 600.60,878.00" fill="#000"/>
<text x="537.00" y="872.00" text-anchor="middle" font-size="20">100</text>
</svg></body></html>
